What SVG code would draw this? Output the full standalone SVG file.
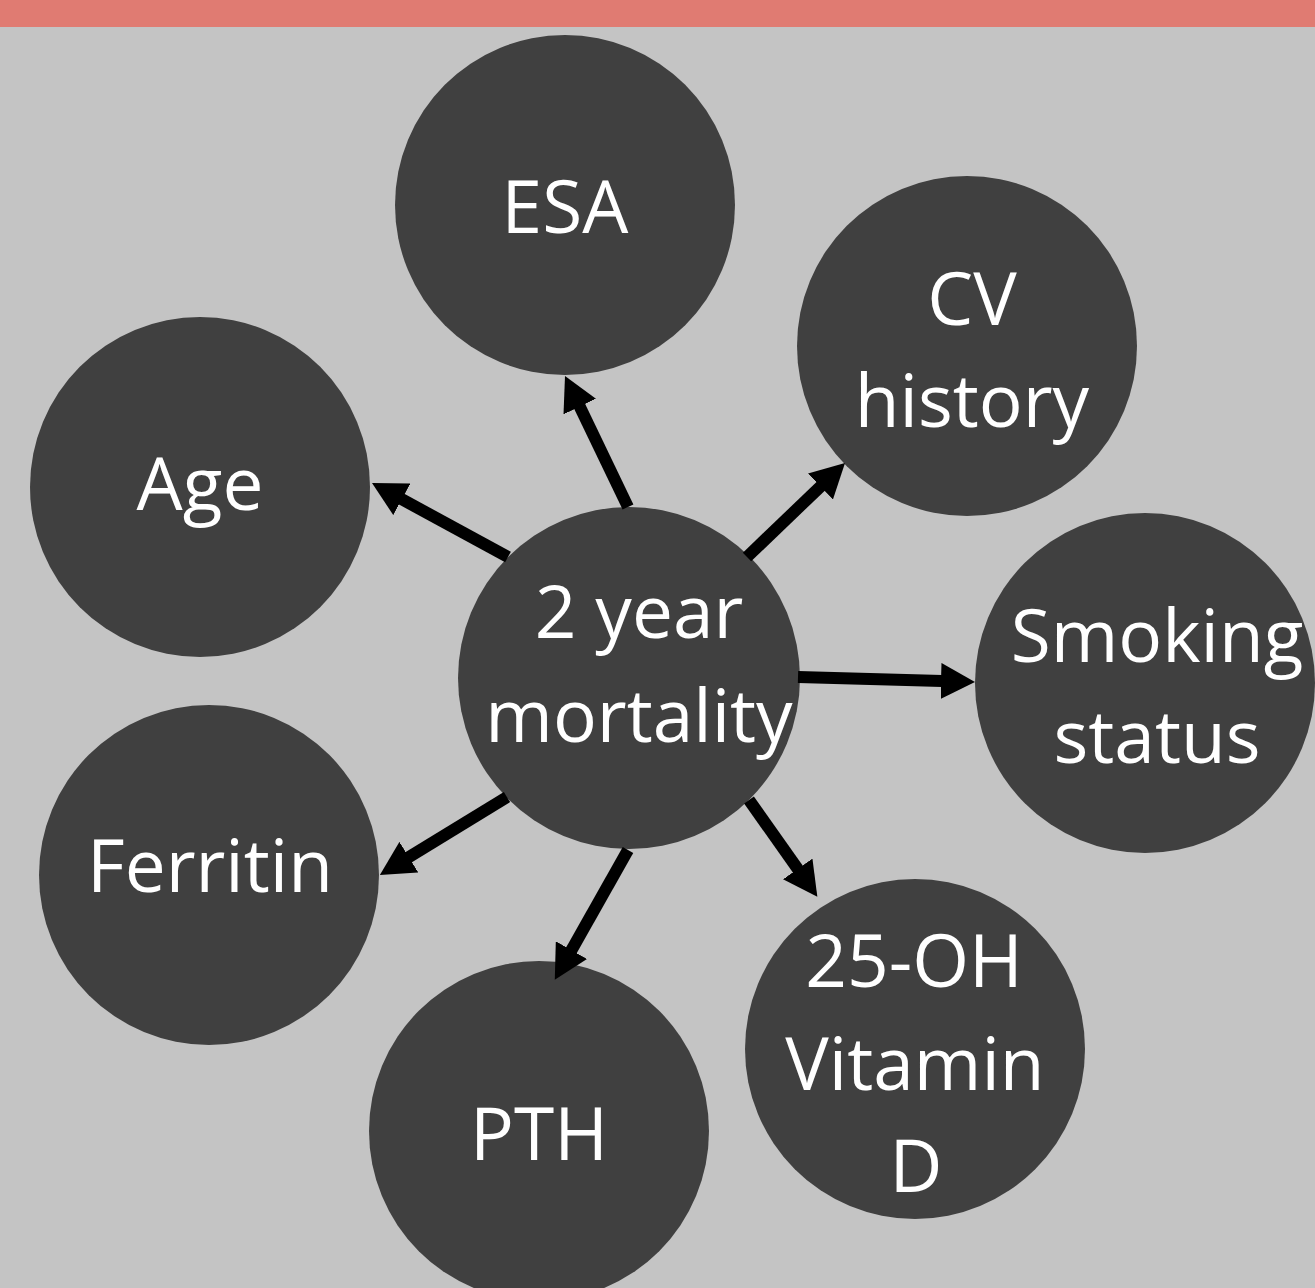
<svg xmlns="http://www.w3.org/2000/svg" width="1315" height="1288" viewBox="0 0 1315 1288">
<style>
.bg{fill:#c4c4c4}
.band{fill:#e07b72}
.node circle{fill:#404040}
.node text{fill:#ffffff;font-family:"Open Sans","Liberation Sans",sans-serif;font-size:73px;text-anchor:middle}
.conn line{stroke:#000;stroke-width:12;fill:none;marker-end:url(#ah)}
</style>
<defs>
<marker id="ah" viewBox="0 0 34 36" refX="1" refY="18" markerWidth="34" markerHeight="36" markerUnits="userSpaceOnUse" orient="auto">
<path d="M0,0 L34,18 L0,36 z" fill="#000"/>
</marker>
</defs>
<rect class="bg" x="0" y="0" width="1315" height="1288"/>
<rect class="band" x="0" y="0" width="1315" height="27"/>
<g id="node-esa" class="node"><circle cx="565" cy="205" r="170"/><text x="565" y="233">ESA</text></g>
<g id="node-cv" class="node"><circle cx="967" cy="346" r="170"/><text x="972" y="325">CV</text><text x="972" y="427">history</text></g>
<g id="node-age" class="node"><circle cx="200" cy="487" r="170"/><text x="200" y="510">Age</text></g>
<g id="node-smoking" class="node"><circle cx="1145" cy="683" r="170"/><text x="1157" y="662">Smoking</text><text x="1157" y="763">status</text></g>
<g id="node-ferritin" class="node"><circle cx="209" cy="875" r="170"/><text x="210" y="892">Ferritin</text></g>
<g id="node-pth" class="node"><circle cx="539" cy="1131" r="170"/><text x="539" y="1160">PTH</text></g>
<g id="node-vitd" class="node"><circle cx="915" cy="1049" r="170"/><text x="914" y="987">25-OH</text><text x="915" y="1090">Vitamin</text><text x="916" y="1192">D</text></g>
<g id="node-mortality" class="node"><circle cx="629" cy="678" r="171"/><text x="639" y="638">2 year</text><text x="639" y="742">mortality</text></g>
<g id="connectors" class="conn">
<line x1="628" y1="507" x2="579.3" y2="405.7"/>
<line x1="508" y1="557" x2="401" y2="498.8"/>
<line x1="747" y1="557" x2="821.2" y2="485.8"/>
<line x1="798" y1="677" x2="942" y2="681"/>
<line x1="507" y1="797" x2="408" y2="857.7"/>
<line x1="628" y1="850" x2="571" y2="951"/>
<line x1="749" y1="800" x2="798.3" y2="869.8"/>
</g>
</svg>
